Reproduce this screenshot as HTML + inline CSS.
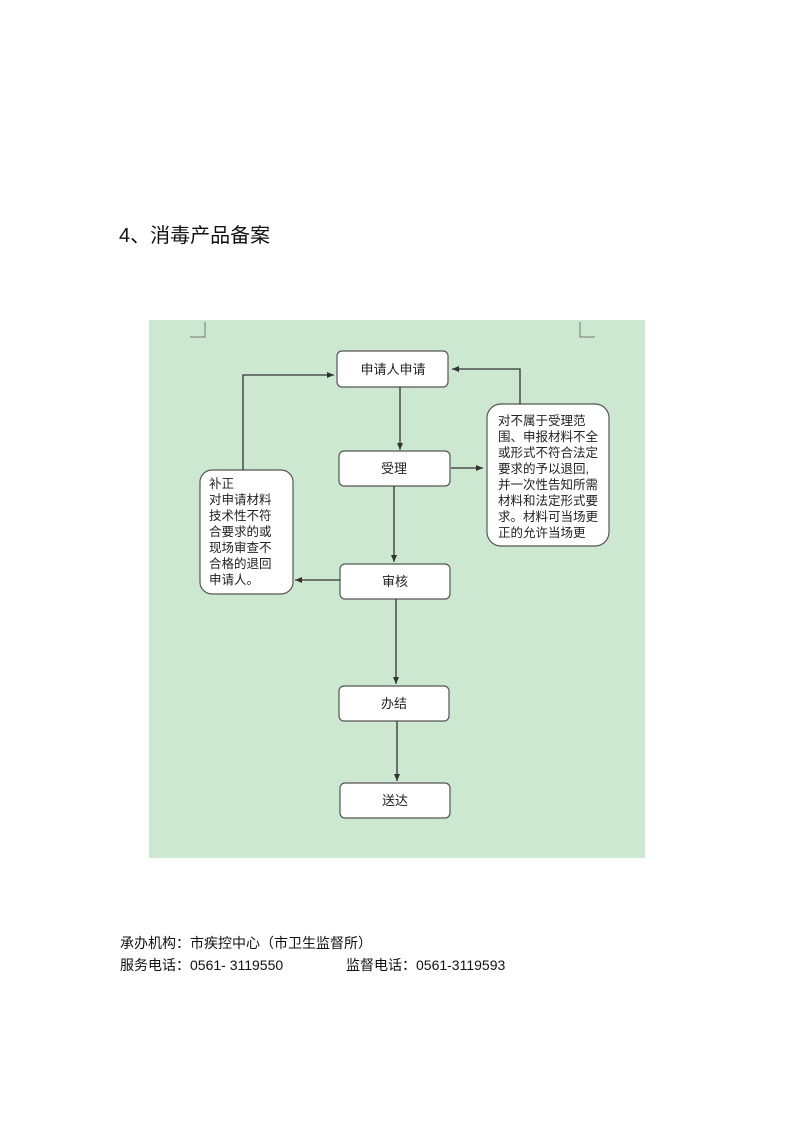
<!DOCTYPE html>
<html><head><meta charset="utf-8"><style>
html,body{margin:0;padding:0;background:#fff;}
body{width:793px;height:1122px;position:relative;overflow:hidden;font-family:"Liberation Sans","Noto Sans CJK SC",sans-serif;}
.t{position:absolute;white-space:nowrap;color:#111;}
</style></head><body>
<div class="t" style="left:119px;top:219px;font-size:20px;">4、消毒产品备案</div>
<svg width="793" height="1122" style="position:absolute;left:0;top:0" font-family="Liberation Sans,Noto Sans CJK SC,sans-serif">
<defs><marker id="a" markerWidth="8" markerHeight="8" refX="7" refY="4" orient="auto" markerUnits="userSpaceOnUse"><path d="M0,1 L7,4 L0,7 Z" fill="#333"/></marker></defs>
<rect x="149" y="320" width="496" height="538" fill="#cde8d0"/>
<path d="M205,322 V337 H190 M580,322 V337 H595" stroke="#777" fill="none" stroke-width="1"/>
<g fill="#fff" stroke="#555" stroke-width="1.2">
<rect x="337" y="351" width="111" height="36" rx="5"/>
<rect x="339" y="451" width="111" height="35" rx="5"/>
<rect x="340" y="564" width="110" height="35" rx="5"/>
<rect x="339" y="686" width="110" height="35" rx="5"/>
<rect x="340" y="783" width="110" height="35" rx="5"/>
<rect x="200" y="470" width="93" height="124" rx="12"/>
<rect x="487" y="404" width="122" height="142" rx="14"/>
</g>
<g stroke="#333" stroke-width="1.3" fill="none" marker-end="url(#a)">
<path d="M400,387 V450"/>
<path d="M394,486 V562"/>
<path d="M396,599 V684"/>
<path d="M397,721 V781"/>
<path d="M243,470 V375 H334"/>
<path d="M340,580 H295"/>
<path d="M451,468 H483"/>
<path d="M520,404 V369 H452"/>
</g>
<g font-size="13" fill="#222" text-anchor="middle">
<text x="393" y="374">申请人申请</text>
<text x="394" y="473">受理</text>
<text x="395" y="586">审核</text>
<text x="394" y="708">办结</text>
<text x="395" y="805">送达</text>
</g>
<g font-size="12.5" fill="#222">
<text x="209" y="488">补正</text>
<text x="209" y="504">对申请材料</text>
<text x="209" y="520">技术性不符</text>
<text x="209" y="536">合要求的或</text>
<text x="209" y="552">现场审查不</text>
<text x="209" y="568">合格的退回</text>
<text x="209" y="584">申请人。</text>
<text x="498" y="425">对不属于受理范</text>
<text x="498" y="441">围、申报材料不全</text>
<text x="498" y="457">或形式不符合法定</text>
<text x="498" y="473">要求的予以退回,</text>
<text x="498" y="489">并一次性告知所需</text>
<text x="498" y="505">材料和法定形式要</text>
<text x="498" y="521">求。材料可当场更</text>
<text x="498" y="537">正的允许当场更</text>
</g>
</svg>
<div class="t" style="left:120px;top:933px;font-size:14px;">承办机构：市疾控中心（市卫生监督所）</div>
<div class="t" style="left:120px;top:955px;font-size:14px;">服务电话：0561- 3119550</div>
<div class="t" style="left:346px;top:955px;font-size:14px;">监督电话：0561-3119593</div>
</body></html>
